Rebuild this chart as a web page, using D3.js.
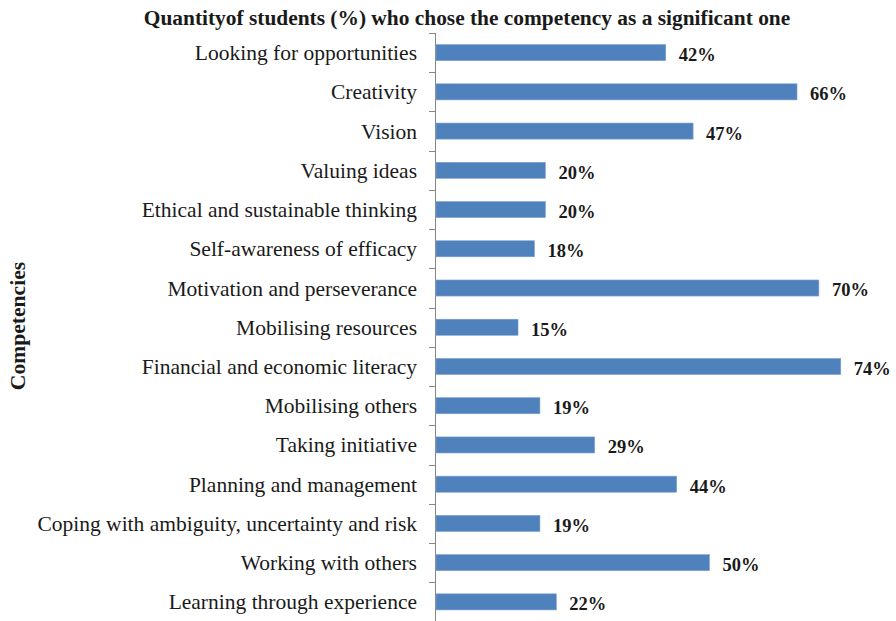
<!DOCTYPE html>
<html>
<head>
<meta charset="utf-8">
<script src="https://cdn.jsdelivr.net/npm/d3@7"></script>
<style>
  html, body { margin: 0; padding: 0; background: #fff; }
  svg { display: block; }
  text { font-family: "Liberation Serif", "Times New Roman", serif; }
</style>
</head>
<body>
<svg id="chart" width="896" height="621"></svg>
<script>
// Competencies, listed top to bottom
const categories = [
  "Looking for opportunities",
  "Creativity",
  "Vision",
  "Valuing ideas",
  "Ethical and sustainable thinking",
  "Self-awareness of efficacy",
  "Motivation and perseverance",
  "Mobilising resources",
  "Financial and economic literacy",
  "Mobilising others",
  "Taking initiative",
  "Planning and management",
  "Coping with ambiguity, uncertainty and risk",
  "Working with others",
  "Learning through experience"
];

// Share of students (%) choosing each competency
const values = [42, 66, 47, 20, 20, 18, 70, 15, 74, 19, 29, 44, 19, 50, 22];

const titleText = "Quantityof students (%) who chose the competency as a significant one";
const axisTitle = "Competencies";

const svg = d3.select("#chart");

const plotLeft = 435, plotTop = 33, plotBottom = 621.5;

const y = d3.scaleBand()
  .domain(categories)
  .range([plotTop, plotBottom])
  .paddingInner(0.59)
  .paddingOuter(0.295);

const x = d3.scaleLinear()
  .domain([0, 100])
  .range([plotLeft + 1, plotLeft + 1 + 547]);

// category axis with ticks on band boundaries
const step = y.step();
const axisG = svg.append("g");
axisG.append("line")
  .attr("x1", plotLeft + 0.5).attr("x2", plotLeft + 0.5)
  .attr("y1", plotTop).attr("y2", plotBottom)
  .attr("stroke", "#868686").attr("stroke-width", 1);
axisG.selectAll("line.tick")
  .data(d3.range(categories.length + 1))
  .join("line")
  .attr("class", "tick")
  .attr("x1", plotLeft - 6).attr("x2", plotLeft + 0.5)
  .attr("y1", i => Math.round(plotTop + i * step) + 0.5)
  .attr("y2", i => Math.round(plotTop + i * step) + 0.5)
  .attr("stroke", "#868686").attr("stroke-width", 1);

axisG.selectAll("text.cat")
  .data(categories)
  .join("text")
  .attr("class", "cat")
  .attr("x", plotLeft - 18)
  .attr("y", d => y(d) + y.bandwidth() / 2)
  .attr("dy", "0.35em")
  .attr("text-anchor", "end")
  .attr("font-size", 21.5)
  .attr("fill", "#1a1a1a")
  .text(d => d);

// bars
svg.append("g").selectAll("rect")
  .data(categories)
  .join("rect")
  .attr("x", x(0))
  .attr("y", d => y(d))
  .attr("width", (d, i) => x(values[i]) - x(0))
  .attr("height", y.bandwidth())
  .attr("fill", "#4F81BD")
  .attr("stroke", "#7fa3d0")
  .attr("stroke-width", 0.6);

// value labels
svg.append("g").selectAll("text")
  .data(categories)
  .join("text")
  .attr("x", (d, i) => x(values[i]) + 13)
  .attr("y", d => y(d) + y.bandwidth() / 2 + 2)
  .attr("dy", "0.35em")
  .attr("font-size", 18.5)
  .attr("font-weight", "bold")
  .attr("fill", "#1a1a1a")
  .text((d, i) => values[i] + "%");

// chart title
svg.append("text")
  .attr("x", 467)
  .attr("y", 25)
  .attr("text-anchor", "middle")
  .attr("font-size", 21.4)
  .attr("font-weight", "bold")
  .attr("fill", "#1a1a1a")
  .text(titleText);

// vertical axis title
svg.append("text")
  .attr("transform", "translate(25,326) rotate(-90)")
  .attr("text-anchor", "middle")
  .attr("font-size", 21.6)
  .attr("font-weight", "bold")
  .attr("fill", "#1a1a1a")
  .text(axisTitle);
</script>
</body>
</html>
